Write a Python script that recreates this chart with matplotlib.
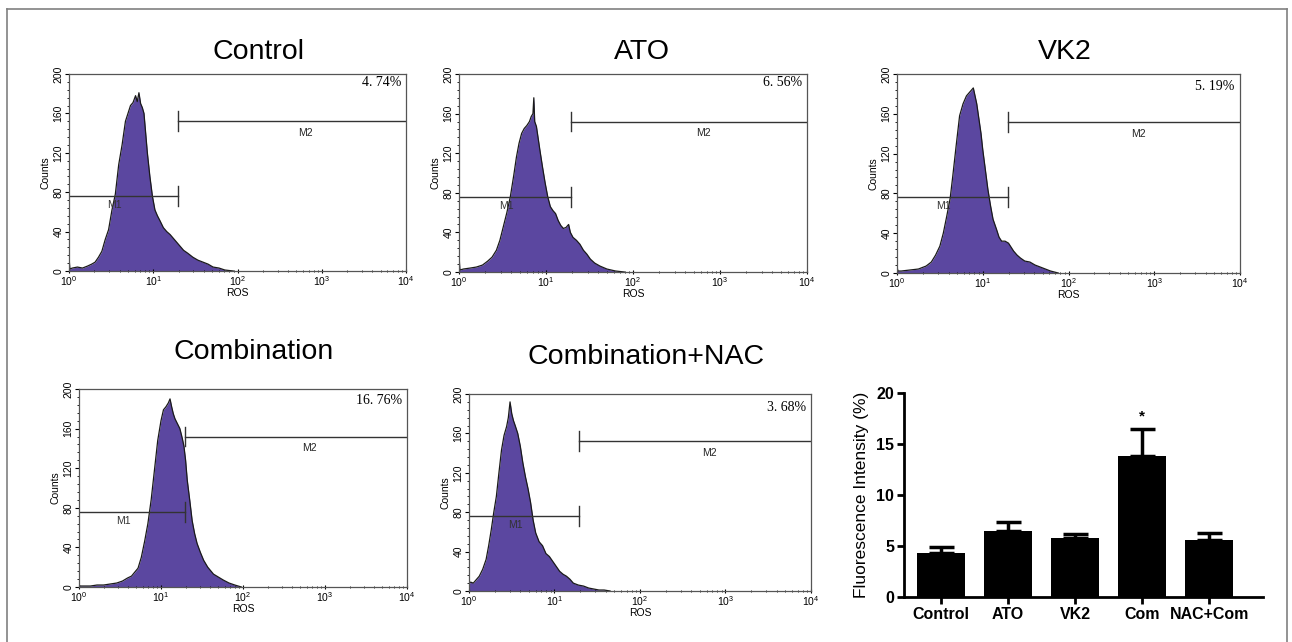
import numpy as np
import matplotlib
matplotlib.use("Agg")
import matplotlib.pyplot as plt
from matplotlib.lines import Line2D
from matplotlib.ticker import MultipleLocator, LogLocator, NullFormatter

plt.rcParams['font.family'] = ['Liberation Sans', 'DejaVu Sans']
plt.rcParams['mathtext.default'] = 'regular'

# --- flow cytometry histograms (log10 of ROS, counts) ---
ctrl_logx = [0.00, 0.01, 0.04, 0.10, 0.16, 0.22, 0.27, 0.31, 0.35, 0.39,
             0.43, 0.47, 0.51, 0.55, 0.59, 0.63, 0.67, 0.70, 0.73, 0.76,
             0.79, 0.81, 0.83, 0.85, 0.87, 0.89, 0.91, 0.93, 0.96, 0.99,
             1.02, 1.05, 1.08, 1.12, 1.16, 1.20, 1.24, 1.28, 1.32, 1.36,
             1.41, 1.47, 1.53, 1.59, 1.65, 1.71, 1.78, 1.85, 1.95]
ctrl_counts = [15, 2, 3, 4, 3, 5, 7, 9, 14, 20,
               32, 42, 62, 78, 108, 128, 152, 160, 168, 171,
               178, 172, 181, 170, 166, 160, 140, 120, 96, 76,
               62, 56, 51, 44, 40, 37, 33, 29, 25, 21,
               18, 14, 11, 9, 7, 4, 3, 1, 0]

ato_logx = [0.00, 0.01, 0.05, 0.13, 0.20, 0.27, 0.33, 0.38, 0.43, 0.47,
            0.51, 0.55, 0.59, 0.63, 0.66, 0.69, 0.72, 0.75, 0.78, 0.81,
            0.83, 0.85, 0.86, 0.87, 0.89, 0.91, 0.93, 0.96, 0.99, 1.02,
            1.05, 1.08, 1.11, 1.14, 1.17, 1.20, 1.23, 1.26, 1.28, 1.31,
            1.35, 1.39, 1.43, 1.47, 1.51, 1.56, 1.62, 1.70, 1.80, 1.90]
ato_counts = [18, 2, 3, 4, 5, 7, 11, 15, 22, 32,
              46, 60, 76, 98, 116, 130, 140, 145, 148, 152,
              157, 160, 176, 152, 147, 135, 123, 106, 90, 76,
              66, 62, 59, 52, 47, 44, 45, 48, 40, 35,
              32, 28, 22, 18, 13, 9, 6, 3, 1, 0]

vk2_logx = [0.00, 0.01, 0.05, 0.15, 0.25, 0.34, 0.40, 0.45, 0.50, 0.54,
            0.58, 0.62, 0.65, 0.69, 0.73, 0.77, 0.81, 0.84, 0.87, 0.89,
            0.91, 0.93, 0.95, 0.98, 1.00, 1.03, 1.06, 1.09, 1.12, 1.14,
            1.16, 1.19, 1.22, 1.26, 1.30, 1.33, 1.36, 1.40, 1.44, 1.49,
            1.55, 1.61, 1.67, 1.73, 1.79, 1.88]
vk2_counts = [7, 2, 2, 3, 4, 7, 11, 18, 27, 40,
              57, 75, 97, 128, 158, 170, 178, 181, 184, 186,
              178, 170, 158, 140, 124, 104, 84, 68, 54, 49,
              44, 36, 32, 32, 30, 26, 22, 18, 15, 12,
              11, 8, 6, 4, 2, 0]

com_logx = [0.00, 0.01, 0.06, 0.14, 0.22, 0.30, 0.38, 0.46, 0.53, 0.59,
            0.64, 0.68, 0.72, 0.76, 0.80, 0.84, 0.88, 0.92, 0.96, 1.00,
            1.03, 1.06, 1.09, 1.11, 1.13, 1.15, 1.17, 1.20, 1.23, 1.26,
            1.28, 1.30, 1.32, 1.35, 1.38, 1.41, 1.44, 1.48, 1.52, 1.57,
            1.64, 1.70, 1.76, 1.83, 1.90, 1.98]
com_counts = [3, 1, 1, 1, 2, 2, 3, 4, 6, 9,
              11, 15, 19, 30, 46, 64, 88, 118, 148, 168,
              179, 182, 186, 190, 182, 175, 170, 165, 160, 150,
              142, 128, 108, 88, 67, 54, 44, 35, 27, 20,
              13, 10, 7, 4, 2, 0]

nac_logx = [0.00, 0.005, 0.02, 0.05, 0.09, 0.12, 0.16, 0.20, 0.23, 0.26,
            0.29, 0.32, 0.35, 0.38, 0.41, 0.44, 0.46, 0.48, 0.50, 0.52,
            0.54, 0.57, 0.60, 0.63, 0.66, 0.69, 0.72, 0.75, 0.78, 0.82,
            0.86, 0.90, 0.94, 0.98, 1.02, 1.06, 1.10, 1.14, 1.18, 1.22,
            1.28, 1.34, 1.40, 1.46, 1.52, 1.58, 1.65]
nac_counts = [44, 8, 9, 8, 12, 15, 22, 32, 46, 62,
              80, 96, 120, 143, 158, 167, 176, 192, 180, 173,
              168, 160, 147, 130, 116, 104, 90, 72, 59, 50,
              46, 38, 35, 30, 25, 20, 17, 15, 12, 8,
              6, 5, 3, 2, 1, 1, 0]

hist_titles = ['Control', 'ATO', 'VK2', 'Combination', 'Combination+NAC']
hist_pct = ['4. 74%', '6. 56%', '5. 19%', '16. 76%', '3. 68%']
gate_log = [1.29, 1.29, 1.30, 1.29, 1.29]

# --- bar chart ---
groups = ['Control', 'ATO', 'VK2', 'Com', 'NAC+Com']
means = [4.35, 6.5, 5.78, 13.8, 5.62]
errs = [0.55, 0.9, 0.36, 2.7, 0.68]

W, H = 1292, 642
fig = plt.figure(figsize=(W / 100, H / 100), dpi=100)


def px_axes(x0, y0, x1, y1):
    return fig.add_axes([x0 / W, 1 - y1 / H, (x1 - x0) / W, (y1 - y0) / H])


def hist_panel(ax, logx, counts, pct, gate, pct_y):
    x = 10 ** np.array(logx)
    y = np.array(counts, dtype=float)
    ax.fill_between(x, y, 0, color='#5b47a0', lw=0)
    ax.plot(x, y, color='#1a1a1a', lw=0.9)
    ax.set_xscale('log')
    ax.set_xlim(1, 1e4)
    ax.set_ylim(0, 200)
    g = 10 ** gate
    ax.plot([1, g], [76, 76], color='#333333', lw=1)
    ax.plot([g, g], [66, 86], color='#333333', lw=1)
    ax.plot([g, 1e4], [152, 152], color='#333333', lw=1)
    ax.plot([g, g], [142, 162], color='#333333', lw=1)
    ax.text(10 ** 0.54, 67, 'M1', fontsize=7.5, ha='center', va='center', color='#333333')
    ax.text(10 ** 2.81, 140, 'M2', fontsize=7.5, ha='center', va='center', color='#222222')
    ax.text(0.985, pct_y, pct, transform=ax.transAxes, ha='right', va='center',
            fontsize=10, family='Liberation Serif')
    ax.set_yticks([0, 40, 80, 120, 160, 200])
    ax.yaxis.set_minor_locator(MultipleLocator(8))
    ax.xaxis.set_major_locator(LogLocator(base=10, numticks=10))
    ax.xaxis.set_minor_locator(LogLocator(base=10, subs=np.arange(2, 10), numticks=10))
    ax.xaxis.set_minor_formatter(NullFormatter())
    ax.tick_params(axis='y', labelrotation=90, labelsize=7.5, length=3, width=0.8, pad=1)
    ax.tick_params(axis='y', which='minor', length=1.5, width=0.6)
    ax.tick_params(axis='x', labelsize=7.5, length=3, width=0.8, direction='inout', pad=1)
    ax.tick_params(axis='x', which='minor', length=2, width=0.6, direction='inout')
    for lab in ax.get_yticklabels():
        lab.set_va('center')
    ax.set_ylabel('Counts', fontsize=7.5, labelpad=2)
    ax.set_xlabel('ROS', fontsize=7.5, labelpad=0)
    for s in ax.spines.values():
        s.set_color('#555555')
        s.set_linewidth(0.9)


boxes = [(69, 74, 406, 271), (459, 74, 807, 272), (897, 74, 1240, 273),
         (79, 389, 407, 587), (469, 394, 811, 591)]
data = [(ctrl_logx, ctrl_counts), (ato_logx, ato_counts), (vk2_logx, vk2_counts),
        (com_logx, com_counts), (nac_logx, nac_counts)]
pct_ys = [0.955, 0.955, 0.935, 0.944, 0.934]
for i in range(5):
    ax = px_axes(*boxes[i])
    hist_panel(ax, data[i][0], data[i][1], hist_pct[i], gate_log[i], pct_ys[i])

# panel titles
title_pos = [(258, 59), (642, 59), (1065, 59), (254, 359), (646, 364)]
for t, (tx, ty) in zip(hist_titles, title_pos):
    fig.text(tx / W, 1 - ty / H, t, ha='center', va='baseline', fontsize=20.5)

# bar chart
bx = px_axes(904, 393, 1263, 597)
pos = np.arange(len(groups))
bx.bar(pos, means, width=0.72, color='black')
bx.errorbar(pos, means, yerr=[np.zeros(len(errs)), errs], fmt='none',
            ecolor='black', elinewidth=2.5, capsize=9, capthick=2.5)
bx.text(pos[3], 17.7, '*', ha='center', va='center', fontsize=11, fontweight='bold')
bx.set_xlim(-0.55, 4.8)
bx.set_ylim(0, 20)
bx.set_yticks([0, 5, 10, 15, 20])
bx.set_xticks(pos)
bx.set_xticklabels(groups)
for s in ['top', 'right']:
    bx.spines[s].set_visible(False)
for s in ['left', 'bottom']:
    bx.spines[s].set_linewidth(2)
bx.tick_params(width=2, length=5, labelsize=11.5, pad=2)
for lab in bx.get_xticklabels() + bx.get_yticklabels():
    lab.set_fontweight('bold')
bx.set_ylabel('Fluorescence Intensity (%)', fontsize=12.5, labelpad=5)

# outer frame
fc = '#808080'
fig.add_artist(Line2D([7 / W, 7 / W], [0, 1 - 9 / H], color=fc, lw=1.2))
fig.add_artist(Line2D([7 / W, 1287 / W], [1 - 9 / H, 1 - 9 / H], color=fc, lw=1.2))
fig.add_artist(Line2D([1287 / W, 1287 / W], [0, 1 - 9 / H], color=fc, lw=1.2))

fig.savefig('out.png', dpi=100)
